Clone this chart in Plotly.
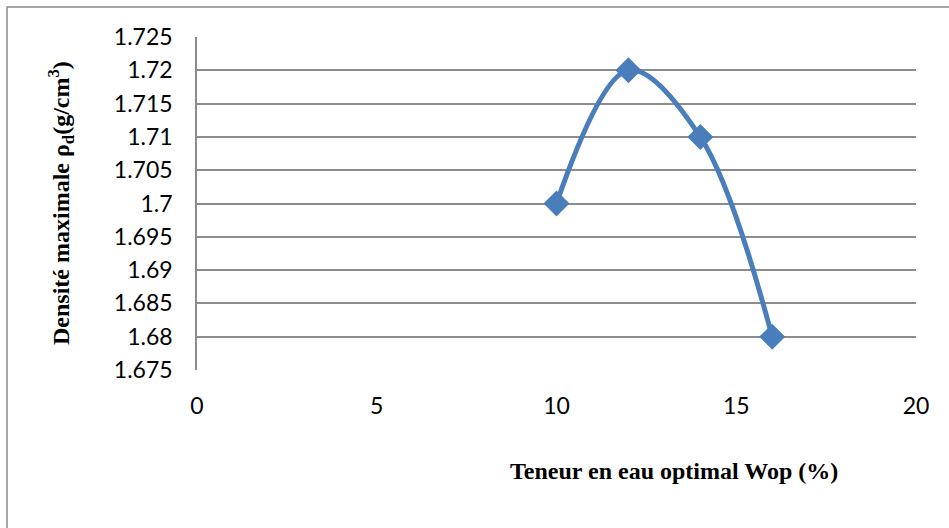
import plotly.graph_objects as go

# ── Data ──────────────────────────────────────────────────────────────────────
wop     = [10, 12, 14, 16]                 # teneur en eau optimal (%)
density = [1.70, 1.72, 1.71, 1.68]         # densité maximale (g/cm3)

y_ticks = [1.675, 1.68, 1.685, 1.69, 1.695, 1.7, 1.705, 1.71, 1.715, 1.72, 1.725]
y_text  = ["1.675", "1.68", "1.685", "1.69", "1.695", "1.7", "1.705", "1.71", "1.715", "1.72", "1.725"]

# ── Style ─────────────────────────────────────────────────────────────────────
_BLUE  = "#4A7EBB"
_GRID  = "#8C8C8C"
_TICK  = dict(family="Lato, 'Open Sans', sans-serif", size=23, color="#000000")
_TITLE = dict(family="'Liberation Serif', 'Times New Roman', serif", size=24, color="#000000")

W, H = 949, 528
L, R, T, B = 197, 33, 37, 158
pw, ph = W - L - R, H - T - B

fig = go.Figure()

fig.add_trace(go.Scatter(
    x=wop,
    y=density,
    mode="lines+markers",
    line=dict(color=_BLUE, width=5, shape="spline", smoothing=1.0),
    marker=dict(symbol="diamond", size=20, color=_BLUE),
    showlegend=False,
))

fig.update_layout(
    width=W,
    height=H,
    margin=dict(l=L, r=R, t=T, b=B),
    plot_bgcolor="#FFFFFF",
    paper_bgcolor="#FFFFFF",
    xaxis=dict(
        range=[0, 20],
        tickvals=[0, 5, 10, 15, 20],
        showgrid=False,
        zeroline=False,
        showline=False,
        ticks="",
        tickfont=_TICK,
        ticklabelstandoff=20,
    ),
    yaxis=dict(
        range=[1.675, 1.725],
        tickvals=y_ticks,
        ticktext=y_text,
        showgrid=True,
        gridcolor=_GRID,
        gridwidth=1.5,
        zeroline=False,
        showline=True,
        linecolor=_GRID,
        linewidth=1.5,
        ticks="",
        tickfont=_TICK,
        ticklabelstandoff=18,
    ),
    annotations=[
        dict(
            text="<b>Densité maximale ρ<sub>d</sub>(g/cm<sup>3</sup>)</b>",
            xref="paper", yref="paper",
            x=(61 - L) / pw, y=(H - B - 203) / ph,
            textangle=-90, showarrow=False,
            xanchor="center", yanchor="middle",
            font=_TITLE,
        ),
        dict(
            text="<b>Teneur en eau optimal Wop (%)</b>",
            xref="paper", yref="paper",
            x=(674 - L) / pw, y=(H - B - 471) / ph,
            showarrow=False,
            xanchor="center", yanchor="middle",
            font=_TITLE,
        ),
    ],
    shapes=[dict(
        type="rect", xref="paper", yref="paper",
        x0=(7 - L) / pw, x1=(960 - L) / pw,
        y0=(H - B - 540) / ph, y1=(H - B - 7) / ph,
        line=dict(color="#8C8C8C", width=1.5),
        layer="below",
    )],
)

# drop the default 8px body margin so the figure sits at the window's corner
fig.write_html(
    "out.html",
    config={"displayModeBar": False},
    post_script="document.body.style.margin='0';",
)
